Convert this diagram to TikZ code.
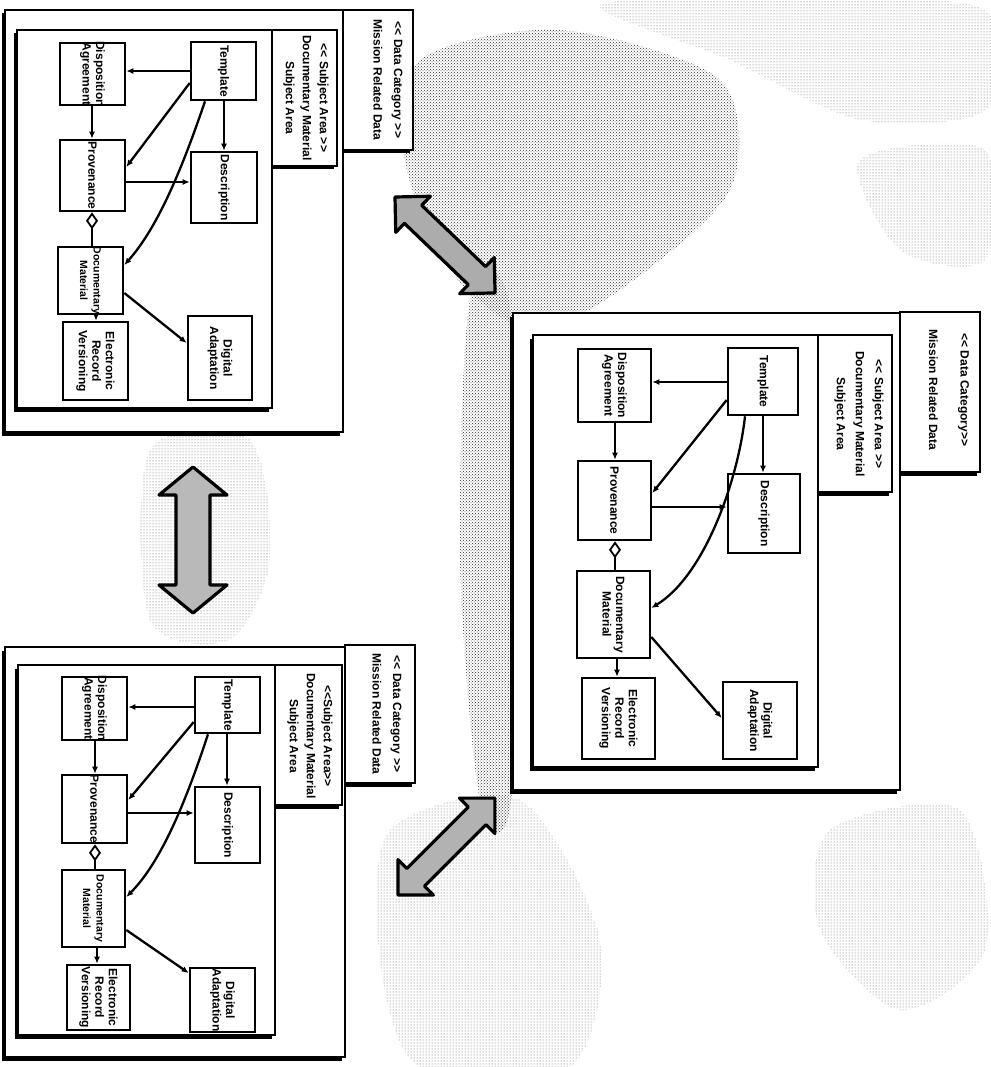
\documentclass[tikz,border=0pt]{standalone}
\usepackage{fontspec}
\setmainfont{Liberation Sans}
\usetikzlibrary{arrows.meta,shadows,calc,patterns}

\newcommand\LL{<\kern0pt<}
\newcommand\GG{>\kern0pt>}
\newcommand\umlbox[6]{%
  \node[cls, minimum width={#4-#2}, minimum height={#5-#3}] (#1) at ({(#2+#4)/2},{(#3+#5)/2}) {};
  \node[lbl] (#1t) at (#1.center) {#6};}
\newcommand\dblarrow[4]{(0,0) -- (#2,#3) -- (#2,#4) -- ({#1-#2},#4) -- ({#1-#2},#3) -- (#1,0) -- ({#1-#2},-#3) -- ({#1-#2},-#4) -- (#2,-#4) -- (#2,-#3) -- cycle}
\newcommand\smallfs{\fontsize{10.5}{13}\selectfont}

\begin{document}
\begin{tikzpicture}[x=1pt,y=-1pt,
  pkg/.style={draw=black, line width=2.2pt, fill=white,
    drop shadow={shadow xshift=-3.5pt, shadow yshift=-3.5pt, opacity=1, fill=black}},
  cls/.style={draw=black, line width=2.6pt, fill=white, inner sep=0pt, rectangle},
  lbl/.style={rotate=-90, font=\fontsize{12}{13.5}\selectfont\bfseries, align=center, inner sep=0pt},
  salbl/.style={lbl, font=\fontsize{12}{17}\selectfont\bfseries},
  conn/.style={line width=2.3pt, -{Latex[length=7pt,width=6pt]}},
  agg/.style={line width=2.3pt, {Diamond[open,length=17pt,width=12pt,line width=1.8pt]}-},
  blk/.style={draw=black, line width=3.2pt, line join=round},
  bgd/.style={pattern=crosshatch dots, pattern color=black!80},
  bgl/.style={pattern=dots, pattern color=black!65}
]
\useasboundingbox (0,0) rectangle (990,1067);

% ---- background halftone areas ----
\fill[bgd] plot[smooth cycle] coordinates {(420,60) (560,30) (720,80) (730,190) (620,290) (530,330) (450,270) (405,160)};
\fill[bgl] plot[smooth cycle] coordinates {(600,5) (800,0) (985,10) (985,110) (860,120) (730,60)};
\fill[bgl] plot[smooth cycle] coordinates {(860,160) (985,150) (985,260) (900,250)};
\fill[bgd] plot[smooth cycle] coordinates {(470,300) (512,320) (512,790) (480,800) (460,560)};
\fill[bgl] plot[smooth cycle] coordinates {(390,830) (520,800) (600,940) (570,1067) (420,1067) (380,960)};
\fill[bgl] plot[smooth cycle] coordinates {(150,450) (250,440) (270,560) (230,640) (150,620)};
\fill[bgl] plot[smooth cycle] coordinates {(830,830) (960,810) (985,950) (900,1010) (820,930)};

% ---- block double arrows ----
\draw[blk, fill=gray!55, shift={(193,467)}, rotate=-90] \dblarrow{146}{28}{34}{17};
\draw[blk, fill=gray!65, shift={(395,197)}, rotate=-43.8] \dblarrow{138.6}{25}{25}{12.5};
\draw[blk, fill=gray!60, shift={(398,895)}, rotate=45] \dblarrow{137}{25}{25}{12.5};

% ================= Panel 1 (top left) =================
\draw[pkg] (343,10) rectangle (413,150);
\draw[pkg] (5,10) rectangle (343,432);
\node[lbl] (dc1) at (388,80) {\LL{} Data Category \GG\\[7pt]Mission Related Data};
\draw[pkg] (272,30) rectangle (337,166);
\draw[pkg] (17,30) rectangle (272,408);
\node[salbl] (sa1) at (306,98) {\LL{} Subject Area \GG\\Documentary Material\\Subject Area};

\umlbox{T1}{191}{42}{256}{100}{Template}
\umlbox{D1}{60}{43}{125}{105}{Disposition\\Agreement}
\umlbox{P1}{60}{140}{125}{211}{Provenance}
\umlbox{S1}{191}{152}{257}{223}{Description}
\umlbox{M1}{58}{247}{123}{314}{\smallfs Documentary\\\smallfs Material}
\umlbox{E1}{63}{322}{128}{400}{Electronic\\Record\\Versioning}
\umlbox{G1}{188}{316}{252}{400}{Digital\\Adaptation}

\draw[conn] (T1.west |- 0,71) -- (D1.east |- 0,71);
\draw[conn] (T1.south -| 224,0) -- (S1.north -| 224,0);
\draw[conn] (T1.west |- 0,83) -- (P1.east |- 0,167);
\draw[conn] (T1.south -| 205,0) .. controls (185,160) and (160,225) .. (M1.east |- 0,265);
\draw[conn] (D1.south -| 92,0) -- (P1.north -| 92,0);
\draw[conn] (P1.east |- 0,182) -- (S1.west |- 0,182);
\draw[agg] (P1.south -| 92,0) -- (M1.north -| 92,0);
\draw[conn] (M1.south -| 96,0) -- (E1.north -| 96,0);
\draw[conn] (M1.east |- 0,293) -- (G1.west |- 0,343);

% ================= Panel 2 (right) =================
\draw[pkg] (900,312) rectangle (980,472);
\draw[pkg] (513,313) rectangle (900,790);
\node[lbl] (dc2) at (949,390) {\LL{} Data Category\GG\\[18pt]Mission Related Data};
\draw[pkg] (818,335) rectangle (892,492);
\draw[pkg] (533,335) rectangle (818,767);
\node[salbl, font=\fontsize{12}{19}\selectfont\bfseries] (sa2) at (859,414) {\LL{} Subject Area \GG\\Documentary Material\\Subject Area};

\umlbox{T2}{728}{348}{798}{415}{Template}
\umlbox{D2}{578}{349}{651}{422}{Disposition\\Agreement}
\umlbox{P2}{578}{461}{651}{540}{Provenance}
\umlbox{S2}{728}{474}{800}{553}{Description}
\umlbox{M2}{577}{571}{650}{658}{Documentary\\Material}
\umlbox{E2}{582}{678}{655}{759}{Electronic\\Record\\Versioning}
\umlbox{G2}{723}{682}{797}{759}{Digital\\Adaptation}

\draw[conn] (T2.west |- 0,382) -- (D2.east |- 0,382);
\draw[conn] (T2.south -| 763,0) -- (S2.north -| 763,0);
\draw[conn] (T2.west |- 0,400) -- (P2.east |- 0,493);
\draw[conn] (T2.south -| 745,0) .. controls (738,480) and (705,575) .. (M2.east |- 0,608);
\draw[conn] (D2.south -| 615,0) -- (P2.north -| 615,0);
\draw[conn] (P2.east |- 0,507) -- (S2.west |- 0,507);
\draw[agg] (P2.south -| 615,0) -- (M2.north -| 615,0);
\draw[conn] (M2.south -| 617,0) -- (E2.north -| 617,0);
\draw[conn] (M2.east |- 0,637) -- (G2.west |- 0,718);

% ================= Panel 3 (bottom left) =================
\draw[pkg] (345,645) rectangle (415,783);
\draw[pkg] (5,647) rectangle (345,1057);
\node[lbl] (dc3) at (387,714) {\LL{} Data Category \GG\\[7pt]Mission Related Data};
\draw[pkg] (275,665) rectangle (342,805);
\draw[pkg] (18,665) rectangle (275,1035);
\node[salbl] (sa3) at (310,736) {\LL Subject Area\GG\\Documentary Material\\Subject Area};

\umlbox{T3}{195}{677}{260}{733}{Template}
\umlbox{D3}{62}{677}{127}{740}{Disposition\\Agreement}
\umlbox{P3}{62}{775}{127}{843}{Provenance}
\umlbox{S3}{195}{787}{260}{863}{Description}
\umlbox{M3}{62}{870}{125}{947}{\smallfs Documentary\\\smallfs Material}
\umlbox{E3}{67}{965}{130}{1030}{Electronic\\Record\\Versioning}
\umlbox{G3}{190}{968}{255}{1032}{Digital\\Adaptation}

\draw[conn] (T3.west |- 0,707) -- (D3.east |- 0,707);
\draw[conn] (T3.south -| 227,0) -- (S3.north -| 227,0);
\draw[conn] (T3.west |- 0,722) -- (P3.east |- 0,800);
\draw[conn] (T3.south -| 208,0) .. controls (188,795) and (163,860) .. (M3.east |- 0,897);
\draw[conn] (D3.south -| 95,0) -- (P3.north -| 95,0);
\draw[conn] (P3.east |- 0,813) -- (S3.west |- 0,813);
\draw[agg] (P3.south -| 95,0) -- (M3.north -| 95,0);
\draw[conn] (M3.south -| 97,0) -- (E3.north -| 97,0);
\draw[conn] (M3.east |- 0,930) -- (G3.west |- 0,973);
\end{tikzpicture}
\end{document}
